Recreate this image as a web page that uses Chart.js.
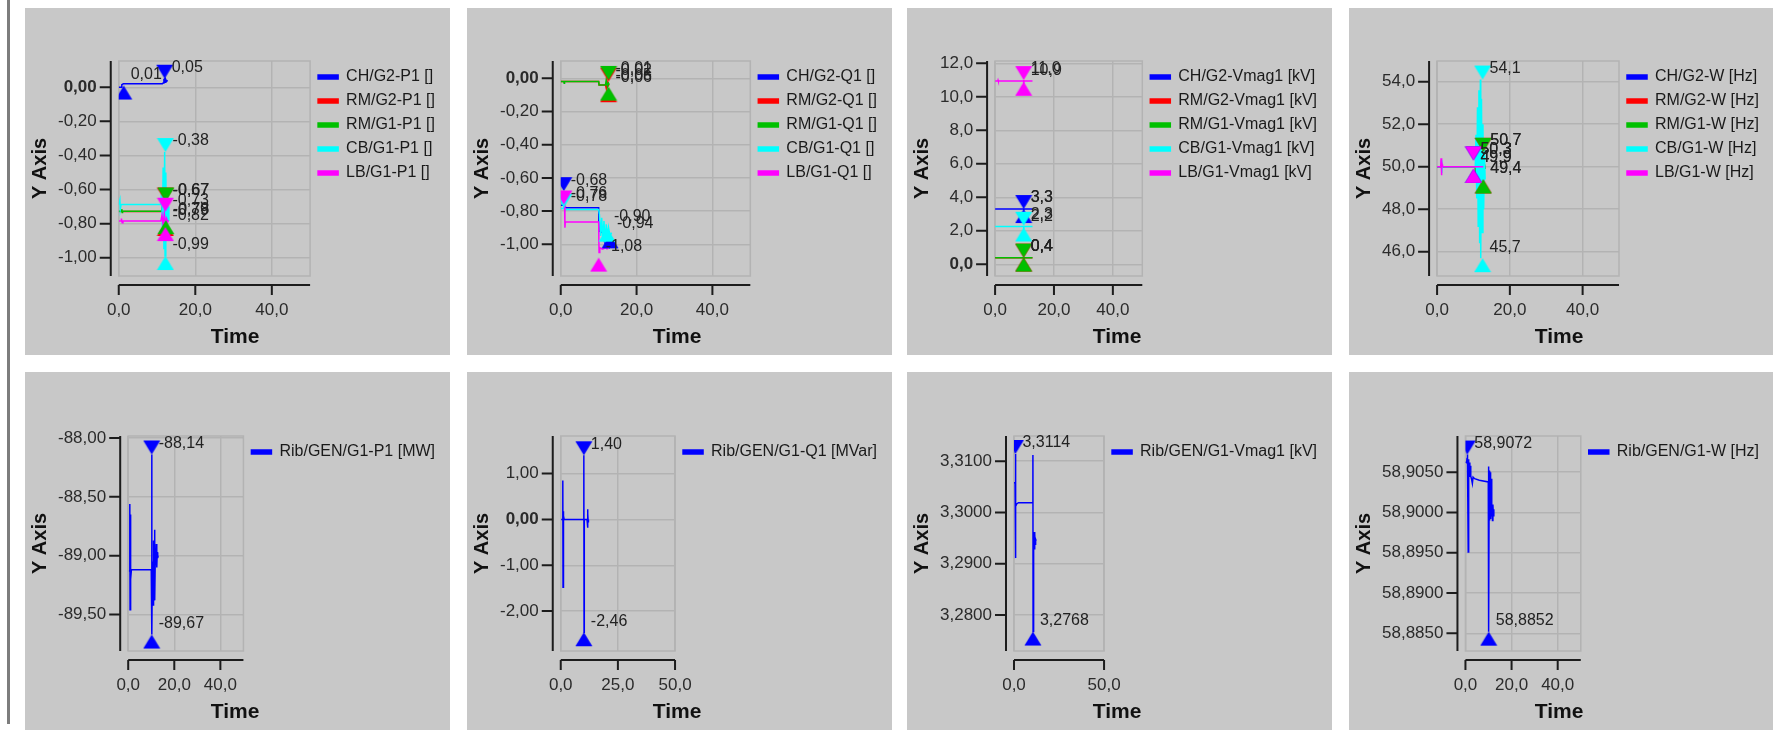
<!DOCTYPE html>
<html>
<head>
<meta charset="utf-8">
<title>Generator measurements</title>
<script src="https://cdn.jsdelivr.net/npm/chart.js@4.4.1/dist/chart.umd.min.js"></script>
<style>
  html, body { margin: 0; padding: 0; background: #ffffff; }
  body { width: 1773px; height: 730px; position: relative; overflow: hidden; }
  #rule { position: absolute; left: 7px; top: 0; width: 3px; height: 724px; background: #7d7d7d; }
  .panel { position: absolute; width: 425px; background: #c8c8c8; overflow: hidden; }
  .panel canvas { position: absolute; left: 0; }
</style>
</head>
<body>
<div id="rule"></div>
<script>
// colours of the five units, same order as the legends
const colors = ['#0000ff', '#ff0000', '#00c000', '#00ffff', '#ff00ff'];
const gridColor = '#b3b3b3';

const xTicks20 = [0, 20, 40];
const xTicks25 = [0, 25, 50];
const xTicks50 = [0, 50];

// ---- P1 ----
const p1Names = ['CH/G2-P1 []', 'RM/G2-P1 []', 'RM/G1-P1 []', 'CB/G1-P1 []', 'LB/G1-P1 []'];
const p1CH = [[0,0.0],[0.6,0.0],[0.8,0.015],[1.2,0.02],[11.4,0.02],[11.6,0.025],[11.8,0.045],[12.0,0.05],[12.1,0.03],[12.3,0.045],[12.5,0.035],[12.8,0.04]];
const p1RM2 = [[0,-0.728],[11.2,-0.728],[11.5,-0.68],[11.7,-0.79],[11.9,-0.67],[12.1,-0.78],[12.3,-0.70],[12.5,-0.76],[12.7,-0.72],[13.0,-0.73]];
const p1RM1 = [[0,-0.727],[0.7,-0.727],[0.8,-0.715],[0.9,-0.735],[1.0,-0.727],[11.2,-0.727],[11.5,-0.69],[11.7,-0.78],[11.9,-0.67],[12.1,-0.77],[12.3,-0.70],[12.5,-0.75],[12.7,-0.72],[13.0,-0.73]];
const p1CB = [[0,-0.688],[0.3,-0.66],[0.4,-0.715],[0.6,-0.688],[11.0,-0.688],[11.2,-0.60],[11.4,-0.82],[11.6,-0.47],[11.8,-0.95],[12.0,-0.38],[12.1,-0.99],[12.3,-0.50],[12.5,-0.90],[12.7,-0.62],[12.9,-0.78],[13.1,-0.70]];
const p1LB = [[0,-0.785],[0.6,-0.785],[0.7,-0.77],[0.9,-0.795],[1.1,-0.785],[11.0,-0.785],[11.3,-0.75],[11.6,-0.81],[11.9,-0.74],[12.2,-0.80],[12.5,-0.77],[12.8,-0.79],[13.0,-0.78]];
const p1Max = [[12.0,0.05],[12.2,-0.67],[12.3,-0.67],[12.2,-0.38],[12.2,-0.73]];
const p1Min = [[1.3,0.01],[12.2,-0.79],[12.3,-0.78],[12.2,-0.99],[12.2,-0.82]];
const p1Y = [-1.107, 0.154];
const p1YTicks = [0, -0.2, -0.4, -0.6, -0.8, -1.0];

// ---- Q1 ----
const p2Names = ['CH/G2-Q1 []', 'RM/G2-Q1 []', 'RM/G1-Q1 []', 'CB/G1-Q1 []', 'LB/G1-Q1 []'];
const p2CH = [[0,-0.765],[0.6,-0.765],[0.8,-0.68],[0.9,-0.775],[1.5,-0.78],[10.0,-0.78],[10.1,-0.92],[10.6,-0.925],[11.0,-0.93],[11.5,-0.98],[12.0,-1.02],[12.4,-1.0],[12.8,-1.02],[13.2,-1.01],[13.6,-1.015]];
const p2RM2 = [[0,-0.02],[10.0,-0.02],[10.1,-0.04],[11.8,-0.04],[12.0,-0.06],[12.2,-0.02],[12.4,-0.05],[12.7,-0.04]];
const p2RM1 = [[0,-0.02],[0.8,-0.02],[0.9,-0.03],[1.0,-0.02],[10.0,-0.02],[10.1,-0.04],[11.8,-0.04],[12.0,-0.01],[12.3,-0.05],[12.6,-0.03],[12.8,-0.04]];
const p2CB = [[0,-0.785],[0.7,-0.785],[0.8,-0.78],[1.0,-0.79],[10.0,-0.79],[10.2,-0.82],[10.5,-0.95],[10.8,-0.84],[11.1,-0.97],[11.4,-0.86],[11.7,-0.99],[12.0,-0.88],[12.3,-0.97],[12.6,-0.90],[13.0,-0.95],[13.4,-0.93]];
const p2LB = [[0,-0.745],[1.0,-0.745],[1.1,-0.90],[1.2,-0.865],[10.0,-0.865],[10.1,-1.05],[10.3,-1.02],[11.0,-1.03],[12.0,-1.02],[12.5,-1.03]];
const p2Max = [[0.8,-0.68],[12.6,-0.02],[12.6,-0.01],[0.8,-0.78],[0.8,-0.76]];
const p2Min = [[13.0,-0.94],[12.6,-0.06],[12.6,-0.05],[12.2,-0.90],[10.0,-1.08]];
const p2Y = [-1.191, 0.104];
const p2YTicks = [0, -0.2, -0.4, -0.6, -0.8, -1.0];

// ---- Vmag1 ----
const p3Names = ['CH/G2-Vmag1 [kV]', 'RM/G2-Vmag1 [kV]', 'RM/G1-Vmag1 [kV]', 'CB/G1-Vmag1 [kV]', 'LB/G1-Vmag1 [kV]'];
const p3CH = [[0,3.30],[9.6,3.30],[9.7,3.32],[9.8,3.28],[9.9,3.30],[12.7,3.30]];
const p3RM2 = [[0,0.39],[9.6,0.39],[9.7,0.41],[9.8,0.37],[9.9,0.39],[12.7,0.39]];
const p3RM1 = [[0,0.39],[9.6,0.39],[9.7,0.41],[9.8,0.37],[9.9,0.39],[12.7,0.39]];
const p3CB = [[0,2.25],[9.6,2.25],[9.7,2.28],[9.8,2.21],[9.9,2.25],[12.7,2.25]];
const p3LB = [[0,10.94],[0.9,10.94],[1.0,11.0],[1.1,10.94],[9.6,10.94],[9.7,11.0],[9.8,10.9],[9.9,10.94],[12.7,10.94]];
const p3Max = [[9.7,3.3],[9.7,0.4],[9.7,0.4],[9.7,2.3],[9.7,11.0]];
const p3Min = [[9.7,3.3],[9.7,0.4],[9.7,0.4],[9.7,2.2],[9.7,10.9]];
const p3Y = [-0.70, 12.14];
const p3YTicks = [12, 10, 8, 6, 4, 2, 0];

// ---- W ----
const p4Names = ['CH/G2-W [Hz]', 'RM/G2-W [Hz]', 'RM/G1-W [Hz]', 'CB/G1-W [Hz]', 'LB/G1-W [Hz]'];
const p4CH = [[0,50.0],[12.7,50.0]];
const p4RM2 = [[0,50.0],[10.5,50.0],[10.8,49.3],[11.1,50.8],[11.4,49.4],[11.7,50.7],[12.0,49.5],[12.3,50.5],[12.6,49.6],[12.9,50.2],[13.2,49.9]];
const p4RM1 = [[0,50.0],[10.5,50.0],[10.8,49.35],[11.1,50.75],[11.4,49.45],[11.7,50.65],[12.0,49.5],[12.3,50.5],[12.6,49.6],[12.9,50.2],[13.2,49.9]];
const p4CB = [[0,50.0],[1.0,50.0],[1.2,50.3],[1.3,49.7],[1.4,50.0],[10.5,50.0],[10.7,51.5],[10.9,48.5],[11.1,52.8],[11.3,47.2],[11.5,53.6],[11.7,46.4],[11.9,54.1],[12.0,45.7],[12.2,53.2],[12.4,46.9],[12.6,52.0],[12.8,48.0],[13.0,50.8],[13.2,49.4]];
const p4LB = [[0,50.0],[1.0,50.0],[1.1,50.4],[1.2,49.6],[1.3,50.0],[1.4,50.1],[1.5,50.0],[12.7,50.0]];
const p4Max = [[10.0,50.3],[12.7,50.7],[12.7,50.7],[12.5,54.1],[10.0,50.3]];
const p4Min = [[10.0,49.9],[12.7,49.4],[12.7,49.4],[12.5,45.7],[10.0,49.9]];
const p4Y = [44.86, 54.97];
const p4YTicks = [54, 52, 50, 48, 46];

// ---- Rib generator ----
const p5Names = ['Rib/GEN/G1-P1 [MW]'];
const p5P = [[0.3,-89.13],[0.6,-89.13],[0.7,-88.56],[0.8,-89.46],[0.9,-88.65],[1.0,-89.38],[1.1,-88.9],[1.2,-89.2],[1.4,-89.12],[10.0,-89.12],[10.2,-88.14],[10.3,-89.67],[10.5,-89.05],[10.8,-89.42],[11.0,-88.87],[11.2,-89.32],[11.4,-88.78],[11.6,-89.38],[11.8,-88.95],[12.0,-89.08],[12.2,-88.9],[12.4,-89.1],[12.6,-88.97],[12.8,-89.02],[13.0,-89.0]];
const p5Max = [[10.2,-88.14]];
const p5Min = [[10.2,-89.67]];
const p5Y = [-89.81, -87.983];
const p5YTicks = [-88.0, -88.5, -89.0, -89.5];

const p6Names = ['Rib/GEN/G1-Q1 [MVar]'];
const p6Q = [[0.2,0.0],[0.8,0.0],[0.9,0.85],[1.0,-1.48],[1.1,0.18],[1.2,-0.2],[1.3,0.08],[1.5,0.0],[10.0,0.0],[10.1,1.40],[10.2,-2.46],[10.3,0.0],[11.5,0.0],[11.7,0.22],[11.8,-0.18],[11.9,0.12],[12.0,-0.05],[12.1,0.0]];
const p6Max = [[10.1,1.40]];
const p6Min = [[10.1,-2.46]];
const p6Y = [-2.87, 1.82];
const p6YTicks = [1, 0, -1, -2];

const p7Names = ['Rib/GEN/G1-Vmag1 [kV]'];
const p7V = [[0.0,3.3058],[0.6,3.3058],[0.8,3.3114],[0.9,3.2911],[1.0,3.3012],[1.6,3.3017],[2.5,3.3019],[10.4,3.3019],[10.5,3.3112],[10.6,3.2768],[10.8,3.2955],[11.0,3.2935],[11.2,3.2962],[11.4,3.2928],[11.6,3.2958],[11.8,3.2938],[12.0,3.2948],[12.3,3.2945]];
const p7Max = [[0.8,3.3114]];
const p7Min = [[10.5,3.2768]];
const p7Y = [3.2730, 3.3149];
const p7YTicks = [3.31, 3.30, 3.29, 3.28];

const p8Names = ['Rib/GEN/G1-W [Hz]'];
const p8W = [[0.0,58.9063],[0.5,58.9062],[0.7,58.9068],[0.8,58.9072],[1.0,58.906],[1.2,58.8951],[1.3,58.9066],[1.5,58.9047],[1.7,58.9062],[1.9,58.9044],[2.1,58.9058],[2.3,58.9045],[2.6,58.9042],[3.0,58.9036],[3.3,58.9044],[4.0,58.9042],[6.0,58.904],[9.9,58.9038],[10.0,58.9057],[10.1,58.8852],[10.3,58.9052],[10.5,58.899],[10.7,58.905],[10.9,58.8992],[11.1,58.9042],[11.3,58.8995],[11.5,58.901],[11.7,58.899],[11.9,58.901],[12.1,58.8996],[12.3,58.9004]];
const p8Max = [[0.8,58.9072]];
const p8Min = [[10.1,58.8852]];
const p8Y = [58.8828, 58.9095];
const p8YTicks = [58.905, 58.9, 58.895, 58.89, 58.885];

const panels = [
  {names: p1Names, series: [p1CH, p1RM2, p1RM1, p1CB, p1LB], max: p1Max, min: p1Min, y: p1Y, yTicks: p1YTicks, xTicks: xTicks20, dec: 2},
  {names: p2Names, series: [p2CH, p2RM2, p2RM1, p2CB, p2LB], max: p2Max, min: p2Min, y: p2Y, yTicks: p2YTicks, xTicks: xTicks20, dec: 2},
  {names: p3Names, series: [p3CH, p3RM2, p3RM1, p3CB, p3LB], max: p3Max, min: p3Min, y: p3Y, yTicks: p3YTicks, xTicks: xTicks20, dec: 1},
  {names: p4Names, series: [p4CH, p4RM2, p4RM1, p4CB, p4LB], max: p4Max, min: p4Min, y: p4Y, yTicks: p4YTicks, xTicks: xTicks20, dec: 1},
  {names: p5Names, series: [p5P], max: p5Max, min: p5Min, y: p5Y, yTicks: p5YTicks, xTicks: xTicks20, dec: 2},
  {names: p6Names, series: [p6Q], max: p6Max, min: p6Min, y: p6Y, yTicks: p6YTicks, xTicks: xTicks25, dec: 2},
  {names: p7Names, series: [p7V], max: p7Max, min: p7Min, y: p7Y, yTicks: p7YTicks, xTicks: xTicks50, dec: 4},
  {names: p8Names, series: [p8W], max: p8Max, min: p8Min, y: p8Y, yTicks: p8YTicks, xTicks: xTicks20, dec: 4}
];

const panelLefts = [25, 467, 907, 1349];
const FONT = '"Liberation Sans", Arial, sans-serif';
Chart.defaults.font.family = FONT;

function fmt(v, d) {
  return v.toFixed(d).replace('.', ',');
}

// triangle with its tip in the middle of the image, so the tip sits on the value
function triangle(color, down) {
  const c = document.createElement('canvas');
  c.width = 18; c.height = 30;
  const g = c.getContext('2d');
  g.fillStyle = color;
  g.beginPath();
  if (down) { g.moveTo(0.5, 1); g.lineTo(17.5, 1); g.lineTo(9, 15); }
  else { g.moveTo(9, 15); g.lineTo(17.5, 29); g.lineTo(0.5, 29); }
  g.closePath();
  g.fill();
  return c;
}

// frame round the plot, and the axis lines set a little away from it
const axisLines = {
  id: 'axisLines',
  beforeDatasetsDraw(chart) {
    const {ctx, chartArea: a} = chart;
    ctx.save();
    ctx.strokeStyle = gridColor;
    ctx.lineWidth = 1.5;
    ctx.strokeRect(a.left, a.top, a.right - a.left, a.bottom - a.top);
    ctx.restore();
  },
  afterDraw(chart) {
    const {ctx, chartArea: a} = chart;
    const xs = chart.scales.x, ys = chart.scales.y;
    const ax = a.left - 8, ay = a.bottom + 9;
    ctx.save();
    ctx.strokeStyle = '#1c1c1c';
    ctx.lineWidth = 2;
    ctx.beginPath();
    ctx.moveTo(ax, a.top); ctx.lineTo(ax, a.bottom);
    ys.ticks.forEach(t => {
      const py = ys.getPixelForValue(t.value);
      ctx.moveTo(ax, py); ctx.lineTo(ax - 11, py);
    });
    ctx.moveTo(a.left, ay); ctx.lineTo(a.right, ay);
    xs.ticks.forEach(t => {
      const px = xs.getPixelForValue(t.value);
      ctx.moveTo(px, ay); ctx.lineTo(px, ay + 10);
    });
    ctx.stroke();
    ctx.restore();
  }
};

function valueLabels(dec) {
  return {
    id: 'valueLabels',
    afterDatasetsDraw(chart) {
      const ctx = chart.ctx;
      ctx.save();
      ctx.font = '16px ' + FONT;
      ctx.fillStyle = '#222222';
      ctx.textAlign = 'left';
      ctx.textBaseline = 'middle';
      chart.data.datasets.forEach((ds, i) => {
        if (!ds.isMarker) return;
        chart.getDatasetMeta(i).data.forEach((pt, j) => {
          ctx.fillText(fmt(ds.data[j].y, dec), pt.x + 7, pt.y - 11);
        });
      });
      ctx.restore();
    }
  };
}

panels.forEach((p, k) => {
  const row = Math.floor(k / 4), col = k % 4;
  const div = document.createElement('div');
  div.className = 'panel';
  div.style.left = panelLefts[col] + 'px';
  div.style.top = (row ? 372 : 8) + 'px';
  div.style.height = (row ? 358 : 347) + 'px';
  const cv = document.createElement('canvas');
  cv.width = 425; cv.height = 347;
  cv.style.top = (row ? 11 : 0) + 'px';
  div.appendChild(cv);
  document.body.appendChild(div);

  const n = p.series.length;
  const datasets = [];
  p.series.forEach((s, i) => {
    datasets.push({
      label: p.names[i],
      data: s.map(([x, y]) => ({x, y})),
      borderColor: colors[i],
      backgroundColor: colors[i],
      borderWidth: 1.5,
      pointRadius: 0,
      tension: 0,
      clip: 0,
      order: 20 - i
    });
  });
  p.series.forEach((s, i) => {
    const down = triangle(colors[i], true), up = triangle(colors[i], false);
    datasets.push({
      label: p.names[i] + ' max/min',
      isMarker: true,
      data: [p.max[i], p.min[i]].map(([x, y]) => ({x, y})),
      showLine: false,
      pointStyle: c => (c.dataIndex === 0 ? down : up),
      pointRadius: 8,
      borderColor: colors[i],
      backgroundColor: colors[i],
      clip: 0,
      order: 10 - i
    });
  });

  new Chart(cv, {
    type: 'line',
    data: {datasets},
    options: {
      responsive: false,
      animation: false,
      devicePixelRatio: 1,
      events: [],
      layout: {padding: {top: 53, right: 5, bottom: 0, left: 0}},
      scales: {
        x: {
          type: 'linear',
          min: 0, max: 50,
          afterBuildTicks: s => { s.ticks = p.xTicks.map(v => ({value: v})); },
          grid: {color: gridColor, lineWidth: 1.5, tickLength: 19, tickColor: 'rgba(0,0,0,0)'},
          border: {display: false},
          ticks: {
            autoSkip: false, maxRotation: 0, minRotation: 0, padding: 5,
            color: '#2b2b2b', font: {size: 17},
            callback: v => fmt(v, 1)
          }
        },
        y: {
          type: 'linear',
          min: p.y[0], max: p.y[1],
          afterBuildTicks: s => { s.ticks = p.yTicks.map(v => ({value: v})); },
          afterFit: s => {
            const ctx = s.ctx;
            ctx.save();
            ctx.font = '17px ' + FONT;
            const w = Math.max(...p.yTicks.map(v => ctx.measureText(fmt(v, p.dec)).width));
            ctx.restore();
            s.width = w + 55;
          },
          grid: {color: gridColor, lineWidth: 1.5, tickLength: 19, tickColor: 'rgba(0,0,0,0)'},
          border: {display: false},
          title: {
            display: true, text: 'Y Axis', color: '#111111',
            font: {size: 20, weight: 'bold', lineHeight: 1.2},
            padding: {top: 3, bottom: 3}
          },
          ticks: {
            padding: 3, color: '#2b2b2b',
            font: c => ({size: 17, weight: c.tick && c.tick.value === 0 ? 'bold' : 'normal'}),
            callback: v => fmt(v, p.dec)
          }
        }
      },
      plugins: {
        legend: {
          position: 'right',
          align: 'start',
          maxWidth: 400,
          labels: {
            boxWidth: 20, boxHeight: 4, padding: 8,
            color: '#1a1a1a', font: {size: 16},
            filter: item => item.datasetIndex < n,
            sort: (a, b) => a.datasetIndex - b.datasetIndex
          }
        },
        title: {
          display: true, text: 'Time', position: 'bottom', color: '#111111',
          font: {size: 21, weight: 'bold', lineHeight: 1},
          padding: {top: 1, bottom: 7.6}
        },
        tooltip: {enabled: false}
      }
    },
    plugins: [axisLines, valueLabels(p.dec)]
  });
});
</script>
</body>
</html>
